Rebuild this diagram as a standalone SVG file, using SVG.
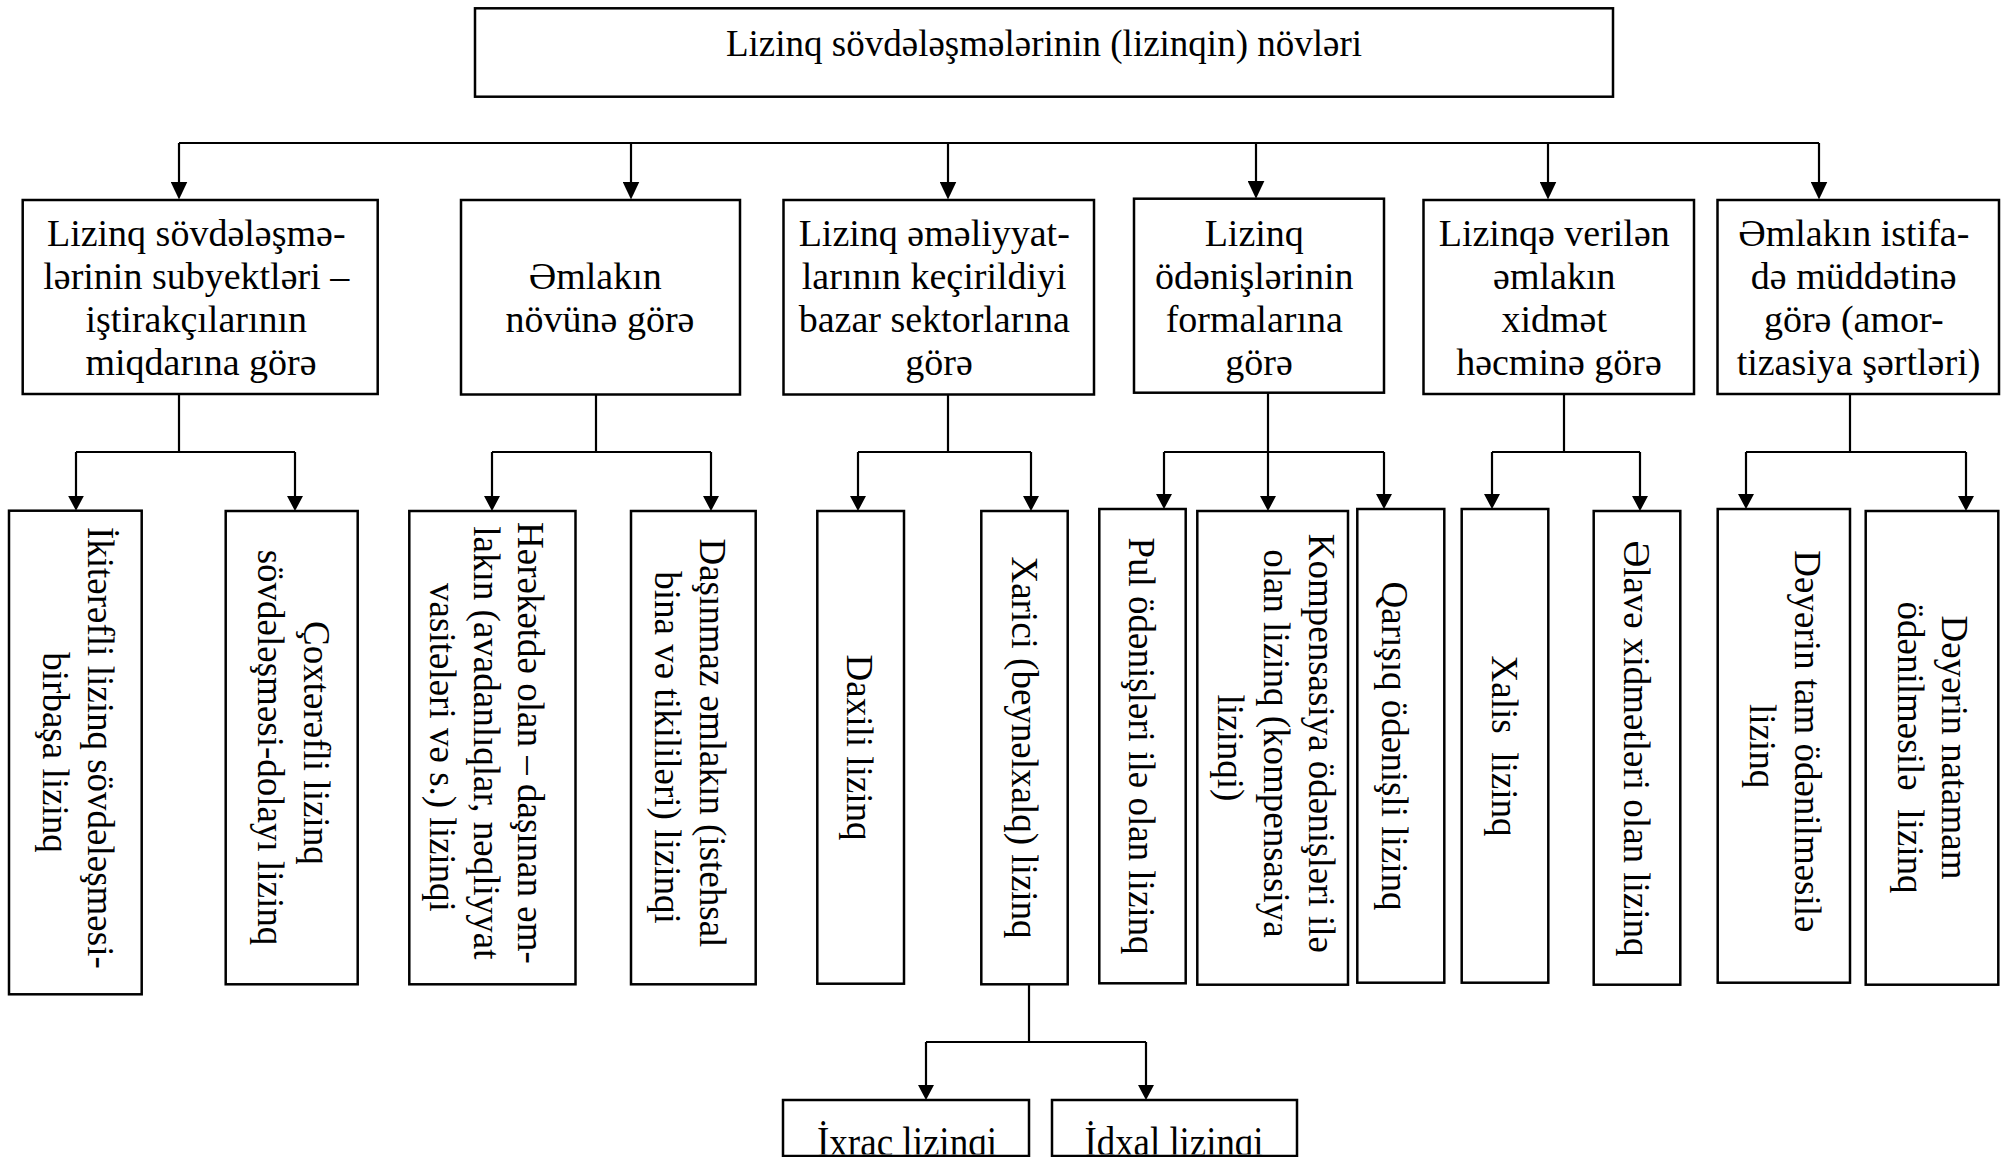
<svg xmlns="http://www.w3.org/2000/svg" width="2009" height="1157" viewBox="0 0 2009 1157">
  <style>
    .box { fill: #fff; stroke: #000; stroke-width: 2.5; }
    .t { font-family: "Liberation Serif", "Times New Roman", serif; fill: #000; text-anchor: middle; }
    .title { font-size: 37px; }
    .l2 { font-size: 38px; }
    .v { font-size: 37px; }
    .low { font-size: 43px; }
    .wire { fill: none; stroke: #000; stroke-width: 2.2; }
    .big { marker-end: url(#arrowL); }
    .small { marker-end: url(#arrowS); }
  </style>
  <defs>
    <marker id="arrowL" markerUnits="userSpaceOnUse" viewBox="0 0 18 17" markerWidth="18" markerHeight="17" refX="12" refY="8.5" orient="auto">
      <path d="M0,0 L18,8.5 L0,17 Z" fill="#000"/>
    </marker>
    <marker id="arrowS" markerUnits="userSpaceOnUse" viewBox="0 0 15 16" markerWidth="15" markerHeight="16" refX="9" refY="8" orient="auto">
      <path d="M0,0 L15,8 L0,16 Z" fill="#000"/>
    </marker>
    <clipPath id="lowClip">
      <rect x="700" y="1100" width="700" height="54.5"/>
    </clipPath>
  </defs>

  <!-- connectors -->
  <g id="connectors">
    <!-- top level bar -->
    <path class="wire" d="M179,143 H1819"/>
    <path class="wire big" d="M179,143 V193.5"/>
    <path class="wire big" d="M631,143 V193.5"/>
    <path class="wire big" d="M948,143 V193.5"/>
    <path class="wire big" d="M1256,143 V192.7"/>
    <path class="wire big" d="M1548,143 V193.5"/>
    <path class="wire big" d="M1819,143 V193.5"/>

    <!-- group 1 -->
    <path class="wire" d="M179,394 V452 M76,452 H295"/>
    <path class="wire small" d="M76,452 V504.7"/>
    <path class="wire small" d="M295,452 V505"/>
    <!-- group 2 -->
    <path class="wire" d="M596,394.5 V452 M492,452 H711"/>
    <path class="wire small" d="M492,452 V505"/>
    <path class="wire small" d="M711,452 V505"/>
    <!-- group 3 -->
    <path class="wire" d="M948,394.5 V452 M858,452 H1031"/>
    <path class="wire small" d="M858,452 V505"/>
    <path class="wire small" d="M1031,452 V505"/>
    <!-- group 4 -->
    <path class="wire" d="M1164,452 H1384"/>
    <path class="wire small" d="M1268,392.7 V505"/>
    <path class="wire small" d="M1164,452 V503"/>
    <path class="wire small" d="M1384,452 V503"/>
    <!-- group 5 -->
    <path class="wire" d="M1564,394 V452 M1492,452 H1640"/>
    <path class="wire small" d="M1492,452 V503"/>
    <path class="wire small" d="M1640,452 V505"/>
    <!-- group 6 -->
    <path class="wire" d="M1850,394 V452 M1746,452 H1966"/>
    <path class="wire small" d="M1746,452 V503"/>
    <path class="wire small" d="M1966,452 V505"/>

    <!-- export / import split -->
    <path class="wire" d="M1029,984.3 V1042 M926,1042 H1146"/>
    <path class="wire small" d="M926,1042 V1094"/>
    <path class="wire small" d="M1146,1042 V1094"/>
  </g>

  <!-- root -->
  <g id="root">
    <rect class="box" x="475" y="8.3" width="1138" height="88.4"/>
    <text class="t title" x="1044" y="56">Lizinq sövdələşmələrinin (lizinqin) növləri</text>
  </g>

  <!-- classification criteria -->
  <g id="crit-subjects">
    <rect class="box" x="22.7" y="200" width="355" height="194"/>
    <text class="t l2" x="201">
      <tspan x="201" y="246">Lizinq sövdələşmə-</tspan>
      <tspan x="201" y="289">lərinin subyektləri –</tspan>
      <tspan x="201" y="332">iştirakçılarının</tspan>
      <tspan x="201" y="375">miqdarına görə</tspan>
    </text>
  </g>
  <g id="crit-property">
    <rect class="box" x="461" y="200" width="279" height="194.5"/>
    <text class="t l2" x="600">
      <tspan x="600" y="289">Əmlakın</tspan>
      <tspan x="600" y="332">növünə görə</tspan>
    </text>
  </g>
  <g id="crit-market">
    <rect class="box" x="783.5" y="200" width="310.5" height="194.5"/>
    <text class="t l2" x="939">
      <tspan x="939" y="246">Lizinq əməliyyat-</tspan>
      <tspan x="939" y="289">larının keçirildiyi</tspan>
      <tspan x="939" y="332">bazar sektorlarına</tspan>
      <tspan x="939" y="375">görə</tspan>
    </text>
  </g>
  <g id="crit-payment">
    <rect class="box" x="1134" y="198.7" width="250" height="194"/>
    <text class="t l2" x="1259">
      <tspan x="1259" y="246">Lizinq</tspan>
      <tspan x="1259" y="289">ödənişlərinin</tspan>
      <tspan x="1259" y="332">formalarına</tspan>
      <tspan x="1259" y="375">görə</tspan>
    </text>
  </g>
  <g id="crit-service">
    <rect class="box" x="1423.5" y="200" width="270.5" height="194"/>
    <text class="t l2" x="1559">
      <tspan x="1559" y="246">Lizinqə verilən</tspan>
      <tspan x="1559" y="289">əmlakın</tspan>
      <tspan x="1559" y="332">xidmət</tspan>
      <tspan x="1559" y="375">həcminə görə</tspan>
    </text>
  </g>
  <g id="crit-term">
    <rect class="box" x="1717.5" y="200" width="281.5" height="194"/>
    <text class="t l2" x="1858.5">
      <tspan x="1858.5" y="246">Əmlakın istifa-</tspan>
      <tspan x="1858.5" y="289">də müddətinə</tspan>
      <tspan x="1858.5" y="332">görə (amor-</tspan>
      <tspan x="1858.5" y="375">tizasiya şərtləri)</tspan>
    </text>
  </g>

  <!-- leasing types (vertical labels) -->
  <g id="type-bilateral">
    <rect class="box" x="9" y="510.7" width="132.7" height="483.6"/>
    <text class="t v" transform="translate(88,752.5) rotate(90)">
      <tspan x="0" y="0">İkitərəfli lizinq sövdələşməsi-</tspan>
      <tspan x="0" y="45">birbaşa lizinq</tspan>
    </text>
  </g>
  <g id="type-multilateral">
    <rect class="box" x="225.7" y="511" width="132" height="473.3"/>
    <text class="t v" transform="translate(303.5,747.5) rotate(90)">
      <tspan x="0" y="0">Çoxtərəfli lizinq</tspan>
      <tspan x="0" y="45.5">sövdələşməsi-dolayı lizinq</tspan>
    </text>
  </g>
  <g id="type-movable">
    <rect class="box" x="409.3" y="511" width="166.2" height="473.3"/>
    <text class="t v" transform="translate(518,747.5) rotate(90)">
      <tspan x="0" y="0">Hərəkətdə olan – daşınan əm-</tspan>
      <tspan x="0" y="44">lakın (avadanlıqlar, nəqliyyat</tspan>
      <tspan x="0" y="88">vasitələri və s.) lizinqi</tspan>
    </text>
  </g>
  <g id="type-immovable">
    <rect class="box" x="631" y="511" width="124.7" height="473.3"/>
    <text class="t v" transform="translate(699.5,747.5) rotate(90)">
      <tspan x="0" y="0">Daşınmaz əmlakın (istehsal</tspan>
      <tspan x="0" y="44.5">bina və tikililəri) lizinqi</tspan>
    </text>
  </g>
  <g id="type-domestic">
    <rect class="box" x="817.3" y="511" width="86.7" height="472.7"/>
    <text class="t v" transform="translate(847,747.5) rotate(90)">Daxili lizinq</text>
  </g>
  <g id="type-foreign">
    <rect class="box" x="981.3" y="511" width="86.4" height="473.3"/>
    <text class="t v" transform="translate(1012,747.5) rotate(90)">Xarici (beynəlxalq) lizinq</text>
  </g>
  <g id="type-cash">
    <rect class="box" x="1099.3" y="509" width="86.4" height="474.3"/>
    <text class="t v" transform="translate(1129,746) rotate(90)">Pul ödənişləri ilə olan lizinq</text>
  </g>
  <g id="type-compensation">
    <rect class="box" x="1197.3" y="511" width="150.7" height="473.7"/>
    <text class="t v" transform="translate(1309,748) rotate(90)">
      <tspan x="0" y="0">Kompensasiya ödənişləri ilə</tspan>
      <tspan x="0" y="45.5">olan lizinq (kompensasiya</tspan>
      <tspan x="0" y="91">lizinqi)</tspan>
    </text>
  </g>
  <g id="type-mixed">
    <rect class="box" x="1357.3" y="509" width="87" height="473.7"/>
    <text class="t v" transform="translate(1382,746) rotate(90)">Qarışıq ödənişli lizinq</text>
  </g>
  <g id="type-net">
    <rect class="box" x="1461.7" y="509" width="86.6" height="473.7"/>
    <text class="t v" xml:space="preserve" transform="translate(1491.5,746) rotate(90)">Xalis  lizinq</text>
  </g>
  <g id="type-extra-services">
    <rect class="box" x="1593.7" y="511" width="86.6" height="473.7"/>
    <text class="t v" transform="translate(1624,748.5) rotate(90)">Əlavə xidmətləri olan lizinq</text>
  </g>
  <g id="type-full-payout">
    <rect class="box" x="1717.7" y="509" width="132.3" height="473.7"/>
    <text class="t v" transform="translate(1794.5,746) rotate(90)">
      <tspan x="0" y="0">Dəyərin tam ödənilməsilə</tspan>
      <tspan x="0" y="45">lizinq</tspan>
    </text>
  </g>
  <g id="type-partial-payout">
    <rect class="box" x="1865.7" y="511" width="132.6" height="473.7"/>
    <text class="t v" xml:space="preserve" transform="translate(1941.5,747.5) rotate(90)"><tspan x="0" y="0">Dəyərin natamam</tspan><tspan x="0" y="43.5">ödənilməsilə  lizinq</tspan></text>
  </g>

  <!-- foreign leasing subtypes -->
  <g id="type-export">
    <rect class="box" x="783" y="1100" width="246" height="56"/>
    <text class="t low" x="907" y="1155.5" textLength="180" lengthAdjust="spacingAndGlyphs" clip-path="url(#lowClip)">İxrac lizinqi</text>
  </g>
  <g id="type-import">
    <rect class="box" x="1052" y="1100" width="245" height="56"/>
    <text class="t low" x="1174" y="1155.5" textLength="179" lengthAdjust="spacingAndGlyphs" clip-path="url(#lowClip)">İdxal lizinqi</text>
  </g>
</svg>
